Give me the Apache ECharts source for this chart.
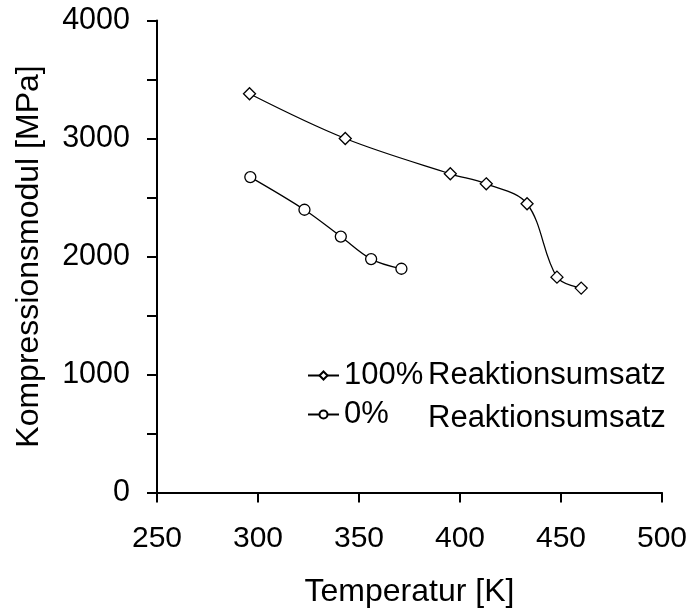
<!DOCTYPE html>
<html>
<head>
<meta charset="utf-8">
<script src="https://cdn.jsdelivr.net/npm/echarts@6/dist/echarts.min.js"></script>
<style>
html,body{margin:0;padding:0;background:#fff;}
#c{width:692px;height:615px;}
</style>
</head>
<body>
<div id="c"></div>
<script>
// Data
const seriesNames = ['100%', '0%'];
const legendSuffix = 'Reaktionsumsatz';
const temp100 = [295.8, 343.2, 395.2, 413.0, 433.2, 448.0, 460.0];
const modul100 = [3379, 3000, 2701, 2616, 2447, 1825, 1732];
const temp0 = [296.2, 323.0, 341.0, 356.0, 371.0];
const modul0 = [2673, 2396, 2169, 1978, 1896];
const xTicks = [250, 300, 350, 400, 450, 500];
const yTicks = [0, 1000, 2000, 3000, 4000];
const xTitle = 'Temperatur [K]';
const yTitle = 'Kompressionsmodul [MPa]';

const FONT = 'Liberation Sans, Arial, sans-serif';
const pairs = (xs, ys) => xs.map((x, i) => [x, ys[i]]);

const chart = echarts.init(document.getElementById('c'), null, {renderer: 'canvas'});
const lineStyle = {color: '#000', width: 1.3};
const itemStyle = {color: '#fff', borderColor: '#000', borderWidth: 1.3};

chart.setOption({
  animation: false,
  backgroundColor: '#fff',
  grid: {left: 157, right: 30, top: 20.5, bottom: 122.5, containLabel: false},
  xAxis: {
    type: 'value',
    min: xTicks[0], max: xTicks[xTicks.length - 1], interval: 50,
    name: xTitle, nameLocation: 'middle', nameGap: 84,
    nameTextStyle: {fontFamily: FONT, fontSize: 32, color: '#000'},
    axisLine: {show: true, onZero: false, lineStyle: {color: '#000', width: 2}},
    axisTick: {show: true, inside: false, length: 10, lineStyle: {color: '#000', width: 2}},
    axisLabel: {margin: 31, fontFamily: FONT, fontSize: 30, color: '#000', formatter: v => String(v)},
    splitLine: {show: false}
  },
  yAxis: {
    type: 'value',
    min: yTicks[0], max: yTicks[yTicks.length - 1], interval: 1000,
    name: yTitle, nameLocation: 'middle', nameGap: 112,
    nameTextStyle: {fontFamily: FONT, fontSize: 32, color: '#000'},
    axisLine: {show: true, lineStyle: {color: '#000', width: 2}},
    axisTick: {show: true, inside: false, length: 10, lineStyle: {color: '#000', width: 2}},
    minorTick: {show: true, splitNumber: 2, length: 10, lineStyle: {color: '#000', width: 2}},
    axisLabel: {margin: 27, fontFamily: FONT, fontSize: 30.5, color: '#000', formatter: v => String(v)},
    splitLine: {show: false}
  },
  legend: {
    orient: 'vertical',
    left: 302, top: 355,
    itemWidth: 31, itemHeight: 10, itemGap: 4,
    textStyle: {
      fontFamily: FONT, fontSize: 31, color: '#000',
      rich: {
        a: {fontFamily: FONT, fontSize: 31, color: '#000', width: 84, lineHeight: 36},
        b: {fontFamily: FONT, fontSize: 31, color: '#000', lineHeight: 36},
        b2: {fontFamily: FONT, fontSize: 31, color: '#000', lineHeight: 36, padding: [8, 0, 0, 0]}
      }
    },
    formatter: name => '{a|' + name + '}{' + (name === seriesNames[0] ? 'b' : 'b2') + '|' + legendSuffix + '}',
    data: seriesNames
  },
  series: [
    {
      name: seriesNames[0], type: 'line', smooth: 0.35,
      data: pairs(temp100, modul100),
      symbol: 'diamond', symbolSize: 12,
      lineStyle: lineStyle, itemStyle: itemStyle
    },
    {
      name: seriesNames[1], type: 'line', smooth: 0.35,
      data: pairs(temp0, modul0),
      symbol: 'circle', symbolSize: 11,
      lineStyle: lineStyle, itemStyle: itemStyle
    }
  ]
});
</script>
</body>
</html>
